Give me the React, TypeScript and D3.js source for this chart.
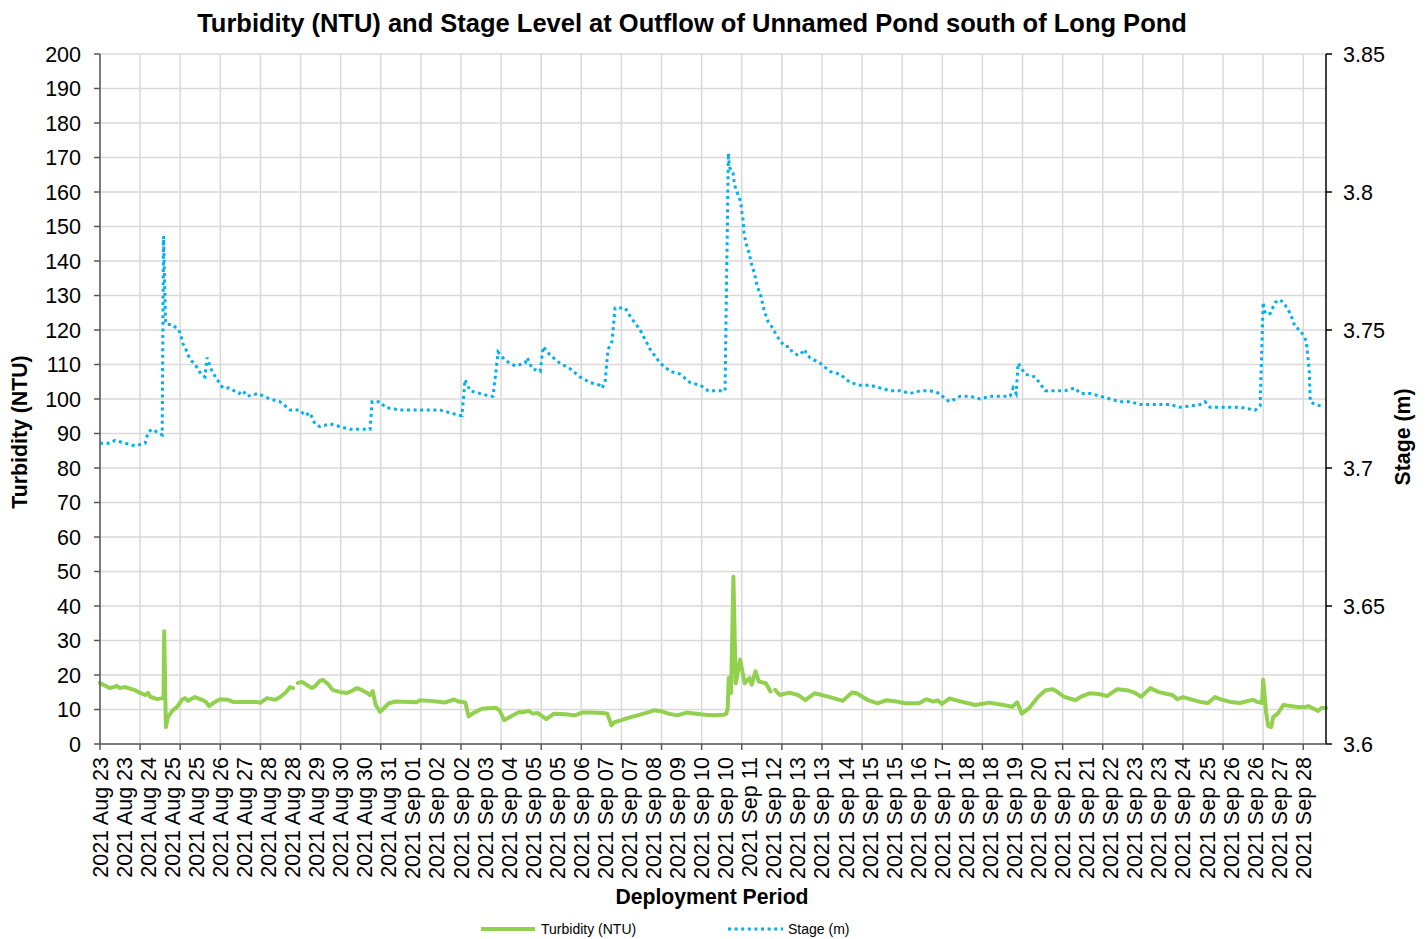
import React from "react";
import * as d3 from "d3";

// x values are days elapsed since 2021 Aug 23 00:00
const xTickLabels = [
  "2021 Aug 23", "2021 Aug 23", "2021 Aug 24", "2021 Aug 25", "2021 Aug 25", "2021 Aug 26",
  "2021 Aug 27", "2021 Aug 28", "2021 Aug 28", "2021 Aug 29", "2021 Aug 30", "2021 Aug 30",
  "2021 Aug 31", "2021 Sep 01", "2021 Sep 02", "2021 Sep 02", "2021 Sep 03", "2021 Sep 04",
  "2021 Sep 05", "2021 Sep 05", "2021 Sep 06", "2021 Sep 07", "2021 Sep 07", "2021 Sep 08",
  "2021 Sep 09", "2021 Sep 10", "2021 Sep 10", "2021 Sep 11", "2021 Sep 12", "2021 Sep 13",
  "2021 Sep 13", "2021 Sep 14", "2021 Sep 15", "2021 Sep 15", "2021 Sep 16", "2021 Sep 17",
  "2021 Sep 18", "2021 Sep 18", "2021 Sep 19", "2021 Sep 20", "2021 Sep 21", "2021 Sep 21",
  "2021 Sep 22", "2021 Sep 23", "2021 Sep 23", "2021 Sep 24", "2021 Sep 25", "2021 Sep 26",
  "2021 Sep 26", "2021 Sep 27", "2021 Sep 28",
];
const labelStepDays = 0.72;
const gridStepDays = 1.2;
const spanDays = 36.68;

const turbidityTicks = d3.range(0, 201, 10);
const stageTicks = [3.6, 3.65, 3.7, 3.75, 3.8, 3.85];

// [day, NTU]; null = missing reading
const turbidity: [number, number | null][] = [
  [0.0, 17.7], [0.3, 16.2], [0.51, 16.8], [0.6, 16.2], [0.75, 16.5], [1.05, 15.6], [1.2, 14.8],
  [1.35, 14.2], [1.44, 14.8], [1.5, 13.7], [1.71, 13.0], [1.86, 13.3], [1.9, 13.3], [1.92, 32.7],
  [1.97, 4.9], [2.03, 7.8], [2.18, 9.8], [2.3, 10.7], [2.45, 12.8], [2.54, 13.3], [2.63, 12.5],
  [2.84, 13.6], [3.05, 12.8], [3.17, 12.2], [3.26, 11.0], [3.35, 11.6], [3.44, 12.2], [3.59, 13.0],
  [3.83, 12.8], [3.98, 12.2], [4.28, 12.2], [4.49, 12.2], [4.7, 12.2], [4.79, 11.9], [5.0, 13.3],
  [5.24, 12.8], [5.39, 13.6], [5.54, 14.8], [5.69, 16.5], [5.78, 16.2], [5.85, null], [5.92, 17.7],
  [6.04, 18.0], [6.19, 17.1], [6.34, 16.2], [6.43, 16.8], [6.58, 18.3], [6.67, 18.6], [6.82, 17.4],
  [6.97, 15.6], [7.18, 15.1], [7.39, 14.8], [7.54, 15.4], [7.69, 16.2], [7.84, 15.6], [7.99, 14.8],
  [8.08, 14.2], [8.16, 15.3], [8.25, 11.3], [8.38, 9.3], [8.64, 11.8], [8.85, 12.3], [9.47, 12.1],
  [9.58, 12.7], [9.89, 12.5], [10.31, 12.0], [10.59, 12.9], [10.73, 12.3], [10.93, 12.0],
  [11.03, 8.0], [11.14, 8.8], [11.42, 10.2], [11.84, 10.5], [11.95, 9.8], [12.09, 6.9],
  [12.26, 7.8], [12.54, 9.3], [12.67, 9.2], [12.82, 9.6], [12.95, 8.8], [13.09, 9.0], [13.35, 7.2],
  [13.58, 8.8], [13.93, 8.6], [14.21, 8.3], [14.42, 9.1], [14.69, 9.1], [15.04, 9.0], [15.18, 8.8],
  [15.3, 5.4], [15.39, 6.3], [15.6, 6.9], [15.88, 7.8], [16.16, 8.5], [16.44, 9.3], [16.58, 9.8],
  [16.79, 9.5], [17.0, 8.8], [17.27, 8.3], [17.55, 9.1], [17.83, 8.8], [18.11, 8.5], [18.39, 8.3],
  [18.67, 8.5], [18.74, 8.8], [18.78, 10.3], [18.81, 19.1], [18.88, 14.7], [18.95, 48.5],
  [19.02, 17.6], [19.15, 24.5], [19.29, 17.6], [19.43, 19.1], [19.5, 17.2], [19.61, 21.1],
  [19.71, 18.1], [19.92, 17.6], [20.06, 15.2], [20.13, null], [20.2, 15.7], [20.34, 14.2],
  [20.62, 14.9], [20.89, 14.2], [21.1, 12.7], [21.38, 14.7], [21.59, 14.2], [21.87, 13.5],
  [22.22, 12.5], [22.5, 14.9], [22.64, 14.7], [22.98, 12.7], [23.26, 11.8], [23.54, 12.7],
  [23.82, 12.3], [24.1, 11.8], [24.51, 11.8], [24.72, 13.0], [24.93, 12.3], [25.07, 12.6],
  [25.19, 11.6], [25.42, 13.2], [25.77, 12.3], [26.19, 11.3], [26.61, 12.0], [27.03, 11.3],
  [27.3, 10.8], [27.44, 12.1], [27.58, 8.8], [27.79, 10.3], [28.07, 13.7], [28.28, 15.5],
  [28.49, 15.9], [28.63, 15.2], [28.84, 13.7], [29.18, 12.7], [29.39, 13.9], [29.6, 14.7],
  [29.88, 14.5], [30.13, 13.9], [30.43, 15.9], [30.73, 15.6], [30.97, 14.8], [31.15, 13.7],
  [31.42, 16.2], [31.66, 15.1], [31.93, 14.5], [32.08, 14.2], [32.23, 13.0], [32.41, 13.6],
  [32.62, 13.0], [32.91, 12.2], [33.15, 11.9], [33.36, 13.6], [33.51, 13.0], [33.81, 12.2],
  [34.11, 11.9], [34.35, 12.5], [34.5, 12.8], [34.62, 12.2], [34.77, 11.9], [34.8, 18.6],
  [34.89, 9.0], [34.95, 5.2], [35.04, 4.9], [35.1, 7.8], [35.25, 9.0], [35.4, 11.3], [35.61, 11.0],
  [35.82, 10.7], [36.06, 10.7], [36.15, 11.0], [36.27, 10.4], [36.45, 9.6], [36.54, 10.4],
  [36.68, 10.4],
];

// [day, metres]
const stage: [number, number | null][] = [
  [0.0, 3.709], [0.3, 3.709], [0.45, 3.71], [0.75, 3.709], [1.05, 3.708], [1.35, 3.709],
  [1.44, 3.713], [1.56, 3.714], [1.71, 3.713], [1.86, 3.712], [1.9, 3.784], [1.93, 3.769],
  [1.96, 3.753], [2.0, 3.752], [2.15, 3.752], [2.36, 3.75], [2.42, 3.748], [2.48, 3.745],
  [2.54, 3.744], [2.63, 3.741], [2.72, 3.739], [2.81, 3.738], [2.93, 3.736], [3.02, 3.734],
  [3.14, 3.733], [3.2, 3.74], [3.26, 3.738], [3.35, 3.735], [3.56, 3.731], [3.68, 3.729],
  [3.86, 3.729], [4.01, 3.728], [4.16, 3.727], [4.28, 3.728], [4.4, 3.726], [4.73, 3.727],
  [5.09, 3.725], [5.39, 3.724], [5.69, 3.721], [5.98, 3.721], [6.13, 3.719], [6.28, 3.72],
  [6.43, 3.716], [6.58, 3.715], [6.88, 3.716], [7.18, 3.715], [7.48, 3.714], [7.78, 3.714],
  [8.08, 3.714], [8.14, 3.724], [8.38, 3.724], [8.53, 3.722], [8.98, 3.721], [9.58, 3.721],
  [10.17, 3.721], [10.47, 3.72], [10.77, 3.719], [10.83, 3.719], [10.92, 3.732], [11.07, 3.728],
  [11.37, 3.727], [11.67, 3.726], [11.76, 3.726], [11.91, 3.742], [12.12, 3.739], [12.42, 3.737],
  [12.72, 3.738], [12.78, 3.74], [12.93, 3.736], [13.17, 3.735], [13.26, 3.744], [13.46, 3.741],
  [13.76, 3.738], [14.06, 3.736], [14.36, 3.733], [14.66, 3.731], [14.96, 3.73], [15.02, 3.729],
  [15.11, 3.731], [15.2, 3.743], [15.32, 3.746], [15.41, 3.758], [15.56, 3.758], [15.71, 3.758],
  [15.86, 3.755], [16.16, 3.75], [16.46, 3.743], [16.76, 3.738], [17.06, 3.735], [17.36, 3.734],
  [17.65, 3.731], [17.95, 3.73], [18.1, 3.729], [18.19, 3.728], [18.55, 3.728], [18.7, 3.728],
  [18.8, 3.814], [18.83, 3.809], [18.94, 3.807], [18.97, 3.804], [19.0, 3.802], [19.15, 3.797],
  [19.18, 3.795], [19.21, 3.792], [19.24, 3.79], [19.27, 3.785], [19.3, 3.783], [19.36, 3.78],
  [19.42, 3.778], [19.51, 3.773], [19.57, 3.771], [19.66, 3.766], [19.78, 3.762], [19.87, 3.757],
  [19.99, 3.753], [20.11, 3.751], [20.2, 3.749], [20.35, 3.746], [20.5, 3.744], [20.62, 3.744],
  [20.71, 3.742], [20.86, 3.741], [20.95, 3.741], [21.07, 3.743], [21.16, 3.741], [21.24, 3.74],
  [21.54, 3.738], [21.84, 3.735], [22.14, 3.734], [22.44, 3.731], [22.74, 3.73], [23.04, 3.73],
  [23.34, 3.729], [23.64, 3.728], [23.94, 3.728], [24.24, 3.727], [24.54, 3.728], [24.84, 3.728],
  [25.13, 3.727], [25.28, 3.725], [25.43, 3.724], [25.73, 3.726], [26.03, 3.726], [26.33, 3.725],
  [26.63, 3.726], [26.93, 3.726], [27.23, 3.726], [27.32, 3.729], [27.41, 3.727], [27.47, 3.738],
  [27.68, 3.734], [27.98, 3.733], [28.28, 3.728], [28.58, 3.728], [28.87, 3.728], [29.17, 3.729],
  [29.32, 3.727], [29.62, 3.727], [29.92, 3.726], [30.22, 3.725], [30.52, 3.724], [30.82, 3.724],
  [31.12, 3.723], [31.42, 3.723], [31.72, 3.723], [32.02, 3.723], [32.32, 3.722], [32.62, 3.7225],
  [32.91, 3.723], [33.06, 3.724], [33.21, 3.722], [33.51, 3.722], [34.11, 3.722], [34.56, 3.721],
  [34.71, 3.7225], [34.8, 3.76], [34.86, 3.756], [35.01, 3.756], [35.16, 3.76], [35.31, 3.761],
  [35.46, 3.759], [35.61, 3.756], [35.76, 3.751], [35.91, 3.75], [36.09, 3.746], [36.18, 3.735],
  [36.21, 3.724], [36.36, 3.723], [36.51, 3.7225], [36.6, 3.722],
];

const W = 1426;
const H = 939;
const M = { left: 100, right: 1326, top: 54, bottom: 744 };
const GREEN = "#92D050";
const BLUE = "#00B0F0";
const GRID = "#D9D9D9";
const FONT = "Liberation Sans, Arial, sans-serif";
const TICK_FS = 21.5;

export default function App() {
  const x = d3.scaleLinear().domain([0, spanDays]).range([M.left, M.right]);
  const yL = d3.scaleLinear().domain([0, 200]).range([M.bottom, M.top]);
  const yR = d3.scaleLinear().domain([3.6, 3.85]).range([M.bottom, M.top]);

  const gridDays = d3.range(0, 31).map((i) => i * gridStepDays);

  const turbLine = d3
    .line<[number, number | null]>()
    .defined((d) => d[1] !== null)
    .x((d) => x(d[0]))
    .y((d) => yL(d[1] as number));
  const stageLine = d3
    .line<[number, number | null]>()
    .defined((d) => d[1] !== null)
    .x((d) => x(d[0]))
    .y((d) => yR(d[1] as number));

  return (
    <svg
      width={W}
      height={H}
      style={{ position: "absolute", left: 0, top: 0, background: "#fff" }}
      fontFamily={FONT}
    >
      {/* grid */}
      {turbidityTicks.map((t) => (
        <line key={"h" + t} x1={M.left} x2={M.right} y1={yL(t)} y2={yL(t)} stroke={GRID} strokeWidth={1.5} />
      ))}
      {gridDays.map((d) => (
        <line key={"v" + d} x1={x(d)} x2={x(d)} y1={M.top} y2={M.bottom} stroke={GRID} strokeWidth={1.5} />
      ))}

      {/* series */}
      <path d={turbLine(turbidity) || ""} fill="none" stroke={GREEN} strokeWidth={4} strokeLinejoin="round" strokeLinecap="round" />
      <path d={stageLine(stage) || ""} fill="none" stroke={BLUE} strokeWidth={3} strokeDasharray="3 3.6" />

      {/* left axis */}
      <line x1={M.left} x2={M.left} y1={M.top} y2={M.bottom} stroke="#595959" strokeWidth={1.5} />
      {turbidityTicks.map((t) => (
        <g key={"lt" + t}>
          <line x1={M.left - 6} x2={M.left} y1={yL(t)} y2={yL(t)} stroke="#595959" strokeWidth={1.5} />
          <text x={M.left - 19} y={yL(t)} dy="0.35em" textAnchor="end" fontSize={TICK_FS} fill="#000">
            {t}
          </text>
        </g>
      ))}

      {/* right axis */}
      <line x1={M.right} x2={M.right} y1={M.top} y2={M.bottom} stroke="#000" strokeWidth={1.5} />
      {stageTicks.map((t) => (
        <g key={"rt" + t}>
          <line x1={M.right} x2={M.right + 6} y1={yR(t)} y2={yR(t)} stroke="#000" strokeWidth={1.5} />
          <text x={M.right + 17} y={yR(t)} dy="0.35em" textAnchor="start" fontSize={TICK_FS} fill="#000">
            {String(t)}
          </text>
        </g>
      ))}

      {/* bottom axis */}
      <line x1={M.left} x2={M.right} y1={M.bottom} y2={M.bottom} stroke="#595959" strokeWidth={1.5} />
      {gridDays.map((d) => (
        <line key={"bt" + d} x1={x(d)} x2={x(d)} y1={M.bottom} y2={M.bottom + 6} stroke="#595959" strokeWidth={1.5} />
      ))}
      {xTickLabels.map((lab, i) => {
        const px = x(i * labelStepDays);
        const py = M.bottom + 13;
        return (
          <text
            key={"xl" + i}
            transform={`translate(${px},${py}) rotate(-90)`}
            textAnchor="end"
            dy="0.35em"
            fontSize={TICK_FS}
            fill="#000"
          >
            {lab}
          </text>
        );
      })}

      {/* titles */}
      <text x={692} y={32} textAnchor="middle" fontSize={25.5} fontWeight="bold" fill="#000">
        Turbidity (NTU) and Stage Level at Outflow of Unnamed Pond south of Long Pond
      </text>
      <text transform={`translate(27,${(M.top + M.bottom) / 2 + 33}) rotate(-90)`} textAnchor="middle" fontSize={21.3} fontWeight="bold" fill="#000">
        Turbidity (NTU)
      </text>
      <text transform={`translate(1410,${(M.top + M.bottom) / 2 + 38}) rotate(-90)`} textAnchor="middle" fontSize={21.3} fontWeight="bold" fill="#000">
        Stage (m)
      </text>
      <text x={712} y={904} textAnchor="middle" fontSize={21.2} fontWeight="bold" fill="#000">
        Deployment Period
      </text>

      {/* legend */}
      <line x1={481} x2={535} y1={929} y2={929} stroke={GREEN} strokeWidth={4} />
      <text x={541} y={934} fontSize={14} fill="#000">Turbidity (NTU)</text>
      <line x1={728} x2={783} y1={929} y2={929} stroke={BLUE} strokeWidth={3} strokeDasharray="3 3.6" />
      <text x={788} y={934} fontSize={14} fill="#000">Stage (m)</text>
    </svg>
  );
}
